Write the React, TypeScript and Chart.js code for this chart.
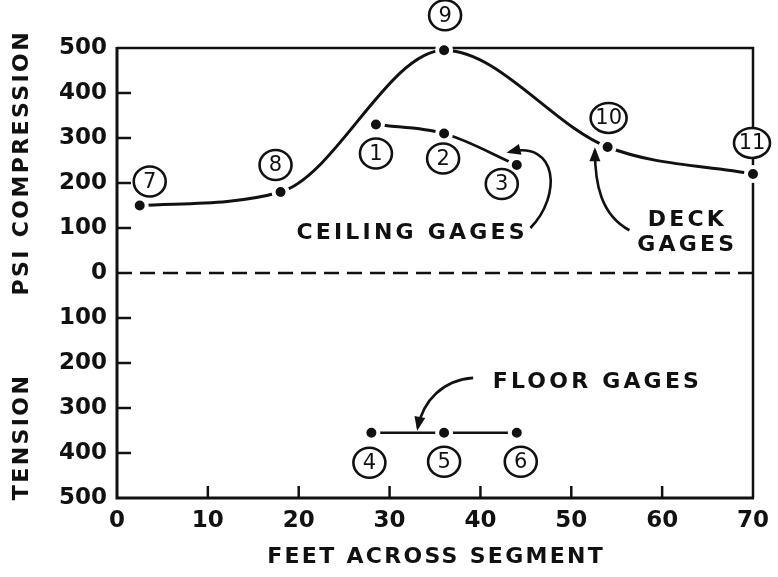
import React, { useEffect, useRef } from 'react';
import { Chart, registerables } from 'chart.js';

Chart.register(...registerables);

// ---- data (feet across segment, psi; compression positive, tension negative)
const deckFeet = [2.5, 18, 36, 54, 70];
const deckPsi = [150, 180, 495, 280, 220];
const deckIds = ['7', '8', '9', '10', '11'];

const ceilingFeet = [28.5, 36, 44];
const ceilingPsi = [330, 310, 240];
const ceilingIds = ['1', '2', '3'];

const floorFeet = [28, 36, 44];
const floorPsi = [-355, -355, -355];
const floorIds = ['4', '5', '6'];

const xMin = 0;
const xMax = 70;
const xStep = 10;
const yMin = -500;
const yMax = 500;
const yStep = 100;

const xTitle = 'FEET ACROSS SEGMENT';
const yTitleTop = 'COMPRESSION';
const yTitleMid = 'PSI';
const yTitleBottom = 'TENSION';

// ---- annotation layout (data coordinates for anchors, pixel offsets for labels)
const deckLabelOffsets = [[10, -24], [-5, -27], [1, -35], [1, -29], [-1, -31]];
const ceilingLabelOffsets = [[0, 29], [-1, 25], [-15, 19]];
const floorLabelOffsets = [[-2, 30], [0, 29], [4, 29]];

const notes = [
  { text: 'CEILING GAGES', x: 32.3, y: 89 },
  { text: 'DECK', x: 62.6, y: 118 },
  { text: 'GAGES', x: 62.6, y: 62 },
  { text: 'FLOOR GAGES', x: 52.7, y: -242 },
];

// cubic bezier arrows in data coordinates: start, c1, c2, end(tip)
const arrows = [
  [[45.5, 100], [49.0, 173], [48.5, 295], [43.2, 269]],
  [[56.4, 95], [53.3, 129], [52.6, 196], [52.6, 273]],
  [[39.2, -233], [35.9, -238], [33.7, -282], [33.1, -344]],
];

const yTitles = [
  { text: yTitleTop, y: 307 },
  { text: yTitleMid, y: 0 },
  { text: yTitleBottom, y: -367 },
];

const FONT = '"DejaVu Sans", sans-serif';
const INK = '#111';

function spacedText(ctx: CanvasRenderingContext2D, text: string, x: number, y: number, font: string, spacing: number) {
  ctx.save();
  ctx.font = font;
  (ctx as any).letterSpacing = spacing + 'px';
  ctx.textAlign = 'center';
  ctx.textBaseline = 'middle';
  ctx.fillStyle = INK;
  ctx.fillText(text, x + spacing / 2, y);
  ctx.restore();
}

const decorPlugin = {
  id: 'decor',
  beforeDatasetsDraw(chart: any) {
    const ctx: CanvasRenderingContext2D = chart.ctx;
    const { left, right, top, bottom } = chart.chartArea;
    const xs = chart.scales.x;
    const ys = chart.scales.y;
    ctx.save();
    ctx.strokeStyle = INK;
    ctx.lineCap = 'butt';
    // zero line dashed
    ctx.lineWidth = 2.5;
    ctx.setLineDash([15, 8]);
    ctx.beginPath();
    const y0 = ys.getPixelForValue(0);
    ctx.moveTo(left, y0);
    ctx.lineTo(right, y0);
    ctx.stroke();
    ctx.setLineDash([]);
    // frame
    ctx.lineWidth = 2.5;
    ctx.beginPath();
    ctx.moveTo(left, top);
    ctx.lineTo(right, top);
    ctx.lineTo(right, bottom);
    ctx.stroke();
    ctx.lineWidth = 3;
    ctx.beginPath();
    ctx.moveTo(left, top - 1);
    ctx.lineTo(left, bottom);
    ctx.lineTo(right + 1, bottom);
    ctx.stroke();
    // inward ticks
    ctx.lineWidth = 2.5;
    ys.ticks.forEach((t: any) => {
      if (t.value === 0 || t.value === yMin || t.value === yMax) return;
      const p = ys.getPixelForValue(t.value);
      ctx.beginPath();
      ctx.moveTo(left, p);
      ctx.lineTo(left + 14, p);
      ctx.stroke();
    });
    xs.ticks.forEach((t: any) => {
      if (t.value === xMin || t.value === xMax) return;
      const p = xs.getPixelForValue(t.value);
      ctx.beginPath();
      ctx.moveTo(p, bottom);
      ctx.lineTo(p, bottom - 12);
      ctx.stroke();
    });
    ctx.restore();
  },
  afterDatasetsDraw(chart: any) {
    const ctx: CanvasRenderingContext2D = chart.ctx;
    const xs = chart.scales.x;
    const ys = chart.scales.y;
    const P = (x: number, y: number) => [xs.getPixelForValue(x), ys.getPixelForValue(y)];

    const circled = (fx: number[], fy: number[], ids: string[], offs: number[][]) => {
      fx.forEach((x, i) => {
        const [px, py] = P(x, fy[i]);
        const cx = px + offs[i][0];
        const cy = py + offs[i][1];
        const rx = ids[i].length > 1 ? 18 : 16;
        ctx.save();
        ctx.beginPath();
        ctx.ellipse(cx, cy, rx, 15, 0, 0, Math.PI * 2);
        ctx.fillStyle = '#fff';
        ctx.fill();
        ctx.lineWidth = 2.6;
        ctx.strokeStyle = INK;
        ctx.stroke();
        ctx.font = '21px ' + FONT;
        ctx.fillStyle = INK;
        ctx.textAlign = 'center';
        ctx.textBaseline = 'middle';
        ctx.fillText(ids[i], cx, cy + 1);
        ctx.restore();
      });
    };
    circled(deckFeet, deckPsi, deckIds, deckLabelOffsets);
    circled(ceilingFeet, ceilingPsi, ceilingIds, ceilingLabelOffsets);
    circled(floorFeet, floorPsi, floorIds, floorLabelOffsets);

    notes.forEach((n) => {
      const [px, py] = P(n.x, n.y);
      spacedText(ctx, n.text, px, py, 'bold 22px ' + FONT, 3.2);
    });

    arrows.forEach((a) => {
      const pts = a.map(([x, y]) => P(x, y));
      ctx.save();
      ctx.strokeStyle = INK;
      ctx.fillStyle = INK;
      ctx.lineWidth = 2.6;
      ctx.beginPath();
      ctx.moveTo(pts[0][0], pts[0][1]);
      ctx.bezierCurveTo(pts[1][0], pts[1][1], pts[2][0], pts[2][1], pts[3][0], pts[3][1]);
      ctx.stroke();
      const dx = pts[3][0] - pts[2][0];
      const dy = pts[3][1] - pts[2][1];
      const len = Math.hypot(dx, dy) || 1;
      const ux = dx / len;
      const uy = dy / len;
      const L = 14;
      const W = 5.5;
      const tx = pts[3][0] + ux * 3;
      const ty = pts[3][1] + uy * 3;
      ctx.beginPath();
      ctx.moveTo(tx, ty);
      ctx.lineTo(tx - ux * L - uy * W, ty - uy * L + ux * W);
      ctx.lineTo(tx - ux * L + uy * W, ty - uy * L - ux * W);
      ctx.closePath();
      ctx.fill();
      ctx.restore();
    });
  },
  afterDraw(chart: any) {
    const ctx: CanvasRenderingContext2D = chart.ctx;
    const { left, right } = chart.chartArea;
    const ys = chart.scales.y;
    yTitles.forEach((t) => {
      const py = ys.getPixelForValue(t.y);
      ctx.save();
      ctx.translate(left - 95, py);
      ctx.rotate(-Math.PI / 2);
      spacedText(ctx, t.text, 0, 0, 'bold 22px ' + FONT, 2.4);
      ctx.restore();
    });
    spacedText(ctx, xTitle, (left + right) / 2, 557, 'bold 22px ' + FONT, 2.3);
  },
};

export default function App() {
  const ref = useRef<HTMLCanvasElement | null>(null);
  useEffect(() => {
    if (!ref.current) return;
    const pts = (xs: number[], ys: number[]) => xs.map((x, i) => ({ x, y: ys[i] }));
    const pointStyle = {
      pointRadius: 7,
      pointBorderWidth: 4,
      pointBackgroundColor: INK,
      pointBorderColor: '#fff',
      pointHoverRadius: 7,
    };
    const chart = new Chart(ref.current, {
      type: 'scatter',
      data: {
        datasets: [
          {
            label: 'Deck gages',
            data: pts(deckFeet, deckPsi),
            showLine: true,
            borderColor: INK,
            borderWidth: 3,
            cubicInterpolationMode: 'monotone',
            clip: false,
            ...pointStyle,
          } as any,
          {
            label: 'Ceiling gages',
            data: pts(ceilingFeet, ceilingPsi),
            showLine: true,
            borderColor: INK,
            borderWidth: 2.8,
            cubicInterpolationMode: 'monotone',
            clip: false,
            ...pointStyle,
          } as any,
          {
            label: 'Floor gages',
            data: pts(floorFeet, floorPsi),
            showLine: true,
            borderColor: INK,
            borderWidth: 2.6,
            tension: 0,
            clip: false,
            ...pointStyle,
          } as any,
        ],
      },
      options: {
        responsive: false,
        animation: false,
        events: [],
        layout: { padding: { top: 48, right: 21, left: 0, bottom: 0 } },
        plugins: {
          legend: { display: false },
          tooltip: { enabled: false },
        },
        scales: {
          x: {
            type: 'linear',
            min: xMin,
            max: xMax,
            grid: { display: false, drawTicks: false },
            border: { display: false },
            ticks: {
              stepSize: xStep,
              color: INK,
              padding: 9,
              font: { family: FONT, size: 23, weight: 'bold' },
            },
            afterFit: (s: any) => {
              s.height = 79;
            },
          },
          y: {
            type: 'linear',
            min: yMin,
            max: yMax,
            grid: { display: false, drawTicks: false },
            border: { display: false },
            ticks: {
              stepSize: yStep,
              color: INK,
              padding: 10,
              font: { family: FONT, size: 23, weight: 'bold' },
              callback: (v: any) => String(Math.abs(Number(v))),
            },
            afterFit: (s: any) => {
              s.width = 117;
            },
          },
        },
      } as any,
      plugins: [decorPlugin],
    });
    return () => chart.destroy();
  }, []);
  return (
    <div style={{ position: 'absolute', left: 0, top: 0, width: 778, height: 577, background: '#fff' }}>
      <canvas ref={ref} width={778} height={577} style={{ display: 'block' }} />
    </div>
  );
}
